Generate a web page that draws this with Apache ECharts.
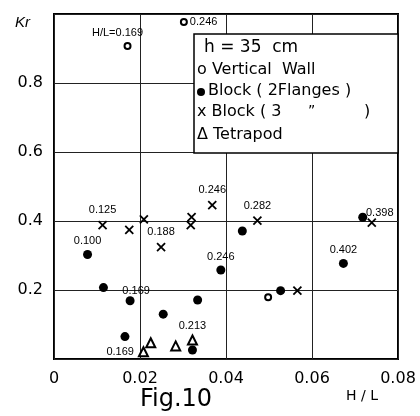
<!DOCTYPE html>
<html>
<head>
<meta charset="utf-8">
<script src="https://cdn.jsdelivr.net/npm/echarts@6/dist/echarts.min.js"></script>
<style>
  html, body { margin: 0; background: #fff; }
  #chart { width: 420px; height: 416px; }
</style>
</head>
<body>
<div id="chart"></div>
<script>
// H/L vs Kr
var xTicks = [0, 0.02, 0.04, 0.06, 0.08];
var yTicks = [0.2, 0.4, 0.6, 0.8];

var verticalWall = [[0.0171, 0.907], [0.0302, 0.977], [0.0498, 0.179]];
var verticalWallText = ["H/L=0.169", "0.246", ""];

var blockTwo = [
  [0.0078, 0.303], [0.0115, 0.207], [0.0165, 0.065], [0.0177, 0.169],
  [0.0254, 0.130], [0.0322, 0.026], [0.0334, 0.171], [0.0388, 0.258],
  [0.0438, 0.371], [0.0527, 0.198], [0.0673, 0.277], [0.0718, 0.411]
];
var blockTwoText = ["0.100", "", "", "0.169", "", "", "", "0.246", "", "", "0.402", ""];

var blockThree = [
  [0.0113, 0.388], [0.0175, 0.374], [0.0209, 0.405], [0.0249, 0.324],
  [0.0318, 0.388], [0.0320, 0.411], [0.0368, 0.446], [0.0473, 0.401],
  [0.0566, 0.198], [0.0739, 0.395]
];
var blockThreeText = ["0.125", "", "", "0.188", "", "", "0.246", "0.282", "", "0.398"];

var tetrapod = [[0.0208, 0.021], [0.0225, 0.047], [0.0283, 0.038], [0.0322, 0.055]];
var tetrapodText = ["0.169", "", "", "0.213"];

var ink = "#000";
var font = "DejaVu Sans";
var smallFont = "Liberation Sans";

// where each annotation sits relative to its point
var place = {
  "H/L=0.169": { position: "top", offset: [-10, 0], distance: 4 },
  "0.246@wall": { position: "right", distance: 2 },
  "0.169@tri": { position: "left", distance: 4 },
  "0.169@blk": { position: "top", offset: [6, 2], distance: 2 },
  "0.398": { position: "top", offset: [8, 4], distance: 2 }
};

function build(points, texts, tag) {
  return points.map(function (p, i) {
    var t = texts[i];
    if (!t) return { value: p };
    var pl = place[t + "@" + tag] || place[t] || { position: "top", distance: 3 };
    return {
      value: p,
      label: Object.assign({
        show: true,
        formatter: t,
        color: ink,
        fontSize: 11,
        fontFamily: smallFont
      }, pl)
    };
  });
}

var myChart = echarts.init(document.getElementById("chart"));
myChart.setOption({
  backgroundColor: "#fff",
  animation: false,
  grid: {
    left: 54, right: 22, top: 14, bottom: 57,
    show: true, borderColor: ink, borderWidth: 2
  },
  xAxis: {
    type: "value",
    min: xTicks[0],
    max: xTicks[xTicks.length - 1],
    interval: 0.02,
    axisLine: { show: false },
    axisTick: { show: false },
    splitLine: { lineStyle: { color: "#222", width: 1 } },
    axisLabel: {
      color: ink, fontSize: 16, fontFamily: font, margin: 12,
      formatter: function (v) { return v === 0 ? "0" : v.toFixed(2); }
    }
  },
  yAxis: {
    type: "value",
    min: 0,
    max: 1,
    interval: 0.2,
    axisLine: { show: false },
    axisTick: { show: false },
    splitLine: { lineStyle: { color: "#222", width: 1 } },
    axisLabel: {
      color: ink, fontSize: 16, fontFamily: font, margin: 11,
      formatter: function (v) {
        var s = v.toFixed(1);
        return yTicks.map(function (t) { return t.toFixed(1); }).indexOf(s) >= 0 ? s : "";
      }
    }
  },
  series: [
    {
      name: "Vertical Wall",
      type: "scatter",
      symbol: "emptyCircle",
      symbolSize: 6,
      itemStyle: { color: ink, borderColor: ink, borderWidth: 1.5, opacity: 1 },
      data: build(verticalWall, verticalWallText, "wall")
    },
    {
      name: "Block (2Flanges)",
      type: "scatter",
      symbol: "circle",
      symbolSize: 9,
      itemStyle: { color: ink, opacity: 1 },
      data: build(blockTwo, blockTwoText, "blk")
    },
    {
      name: "Block (3)",
      type: "scatter",
      symbol: "path://M0,0L10,10M10,0L0,10",
      symbolSize: 8,
      itemStyle: { color: "none", borderColor: ink, borderWidth: 1.8, opacity: 1 },
      data: build(blockThree, blockThreeText, "x")
    },
    {
      name: "Tetrapod",
      type: "scatter",
      symbol: "emptyTriangle",
      symbolSize: 9,
      itemStyle: { color: ink, borderColor: ink, borderWidth: 1.5, opacity: 1 },
      data: build(tetrapod, tetrapodText, "tri")
    }
  ],
  graphic: [
    {
      type: "rect", z: 100,
      shape: { x: 194, y: 34, width: 204, height: 119 },
      style: { fill: "#fff", stroke: ink, lineWidth: 1.5 }
    },
    { type: "text", z: 101, left: 204, top: 39,
      style: { text: "h = 35  cm", font: "17px " + font, fill: ink } },
    { type: "text", z: 101, left: 197, top: 62,
      style: { text: "o Vertical  Wall", font: "16px " + font, fill: ink } },
    { type: "circle", z: 101, shape: { cx: 201, cy: 92, r: 4 },
      style: { fill: ink } },
    { type: "text", z: 101, left: 208, top: 83,
      style: { text: "Block ( 2Flanges )", font: "16px " + font, fill: ink } },
    { type: "text", z: 101, left: 197, top: 104,
      style: { text: "x Block ( 3", font: "16px " + font, fill: ink } },
    { type: "text", z: 101, left: 308, top: 104,
      style: { text: "\u201d", font: "14px " + font, fill: ink } },
    { type: "text", z: 101, left: 364, top: 104,
      style: { text: ")", font: "16px " + font, fill: ink } },
    { type: "text", z: 101, left: 197, top: 127,
      style: { text: "\u0394 Tetrapod", font: "16px " + font, fill: ink } },
    { type: "text", left: 15, top: 15,
      style: { text: "Kr", font: "italic 15px " + smallFont, fill: ink } },
    { type: "text", left: 346, top: 389,
      style: { text: "H / L", font: "14px " + font, fill: ink } },
    { type: "text", left: 140, top: 388,
      style: { text: "Fig.10", font: "24px " + font, fill: ink } }
  ]
});
</script>
</body>
</html>
